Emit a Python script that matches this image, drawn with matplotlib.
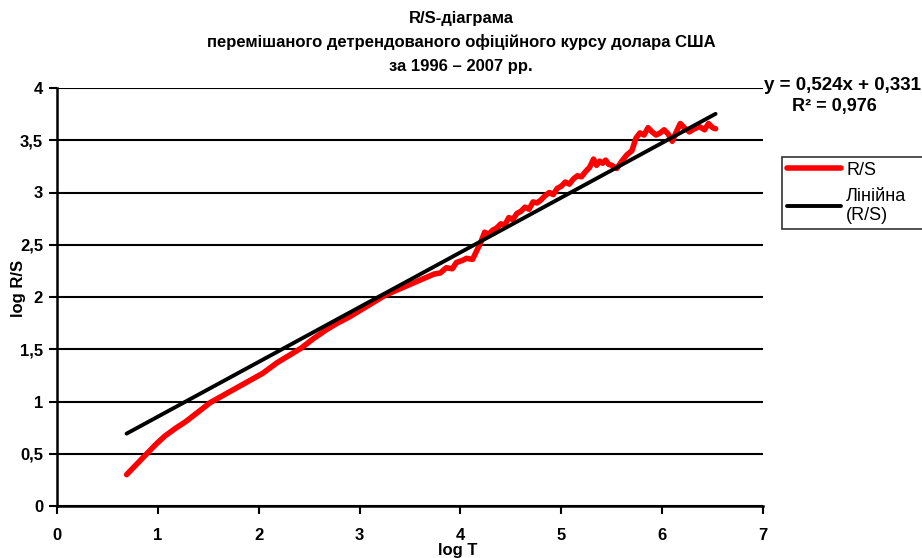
import matplotlib
matplotlib.use("Agg")
import matplotlib.pyplot as plt
import numpy as np

plt.rcParams["font.family"] = ["Liberation Sans", "DejaVu Sans"]

# R/S data
log_t = [0.69, 0.75, 0.82, 0.90, 0.98, 1.07, 1.17, 1.28, 1.40, 1.52,
         1.65, 1.78, 1.91, 2.04, 2.18, 2.30, 2.42, 2.54, 2.66, 2.78,
         2.90, 3.02, 3.14, 3.26, 3.38, 3.50, 3.62, 3.74, 3.80, 3.86,
         3.92, 3.96, 4.02, 4.06, 4.12, 4.16, 4.20, 4.24, 4.28, 4.32,
         4.36, 4.40, 4.44, 4.48, 4.52, 4.56, 4.60, 4.64, 4.68, 4.72,
         4.76, 4.80, 4.84, 4.88, 4.92, 4.96, 5.00, 5.04, 5.08, 5.12,
         5.16, 5.20, 5.24, 5.28, 5.32, 5.35, 5.38, 5.41, 5.44, 5.47,
         5.50, 5.55, 5.60, 5.65, 5.70, 5.74, 5.78, 5.82, 5.86, 5.90,
         5.94, 5.98, 6.02, 6.06, 6.10, 6.14, 6.18, 6.22, 6.27, 6.32,
         6.37, 6.42, 6.46, 6.50, 6.53]
log_rs = [0.30, 0.36, 0.43, 0.51, 0.59, 0.67, 0.74, 0.81, 0.90, 0.99,
          1.06, 1.13, 1.20, 1.27, 1.37, 1.44, 1.51, 1.60, 1.68, 1.75,
          1.81, 1.88, 1.95, 2.02, 2.07, 2.12, 2.17, 2.22, 2.23, 2.28,
          2.27, 2.33, 2.35, 2.37, 2.36, 2.44, 2.52, 2.62, 2.60, 2.64,
          2.66, 2.70, 2.69, 2.76, 2.74, 2.80, 2.82, 2.86, 2.84, 2.91,
          2.90, 2.93, 2.97, 3.00, 2.98, 3.04, 3.06, 3.10, 3.08, 3.13,
          3.16, 3.15, 3.20, 3.24, 3.32, 3.26, 3.30, 3.28, 3.31, 3.27,
          3.26, 3.23, 3.30, 3.36, 3.40, 3.52, 3.57, 3.55, 3.62, 3.58,
          3.55, 3.57, 3.60, 3.56, 3.49, 3.58, 3.66, 3.62, 3.58, 3.61,
          3.63, 3.60, 3.66, 3.62, 3.61]

# linear trend as printed on the chart
trend_slope = 0.524
trend_intercept = 0.331
r_squared = 0.976

x_ticks = [0, 1, 2, 3, 4, 5, 6, 7]
y_ticks = [0, 0.5, 1, 1.5, 2, 2.5, 3, 3.5, 4]
y_tick_labels = ["0", "0,5", "1", "1,5", "2", "2,5", "3", "3,5", "4"]

fig = plt.figure(figsize=(9.22, 5.58), dpi=100)
ax = fig.add_axes([57 / 922, 52 / 558, 706 / 922, 418 / 558])

trend_x = np.array([min(log_t), max(log_t)])
trend_y = trend_slope * trend_x + trend_intercept

ax.plot(log_t, log_rs, color="#ff0000", lw=4, solid_capstyle="round",
        solid_joinstyle="round", label="R/S", zorder=3)
ax.plot(trend_x, trend_y, color="black", lw=2.8, solid_capstyle="round",
        label="Лінійна\n(R/S)", zorder=4)

ax.set_xlim(0, 7)
ax.set_ylim(0, 4)
ax.set_xticks(x_ticks)
ax.set_xticklabels([str(v) for v in x_ticks])
ax.set_yticks(y_ticks)
ax.set_yticklabels(y_tick_labels)
for lbl in ax.get_xticklabels() + ax.get_yticklabels():
    lbl.set_fontweight("bold")
    lbl.set_fontsize(12)
ax.tick_params(axis="x", direction="out", length=6, width=1.5, pad=10)
ax.tick_params(axis="y", direction="out", length=6, width=1.5, pad=4)

ax.yaxis.grid(True, color="black", lw=1.5)
ax.set_axisbelow(True)
for side in ["top", "right"]:
    ax.spines[side].set_visible(False)
for side in ["left", "bottom"]:
    ax.spines[side].set_linewidth(1.8)

fig.text(0.5, 1 - 18 / 558, "R/S-діаграма", ha="center", va="center",
         fontsize=12, fontweight="bold")
fig.text(0.5, 1 - 42 / 558, "перемішаного детрендованого офіційного курсу долара США",
         ha="center", va="center", fontsize=12, fontweight="bold")
fig.text(0.5, 1 - 66 / 558, "за 1996 – 2007 рр.", ha="center", va="center",
         fontsize=12, fontweight="bold")

fig.text(458 / 922, 1 - 551 / 558, "log T", ha="center", va="center",
         fontsize=12, fontweight="bold")
fig.text(18 / 922, 1 - 288 / 558, "log R/S", ha="center", va="center",
         rotation=90, fontsize=12, fontweight="bold")

fig.text(921 / 922, 1 - 86 / 558, f"y = {trend_slope:.3f}x + {trend_intercept:.3f}".replace(".", ","),
         ha="right", va="center", fontsize=13.5, fontweight="bold")
fig.text(834 / 922, 1 - 106 / 558, f"R² = {r_squared:.3f}".replace(".", ","),
         ha="center", va="center", fontsize=13, fontweight="bold")

leg = fig.legend(loc="upper left",
                 bbox_to_anchor=(782 / 922, 1 - 232 / 558, 170 / 922, 75 / 558),
                 mode="expand", frameon=True, fancybox=False, fontsize=13,
                 handlelength=3, borderpad=0.25, labelspacing=0.5,
                 handletextpad=0.3, borderaxespad=0)
leg.get_frame().set_edgecolor("black")
leg.get_frame().set_linewidth(1.2)

fig.savefig("out.png", dpi=100)
